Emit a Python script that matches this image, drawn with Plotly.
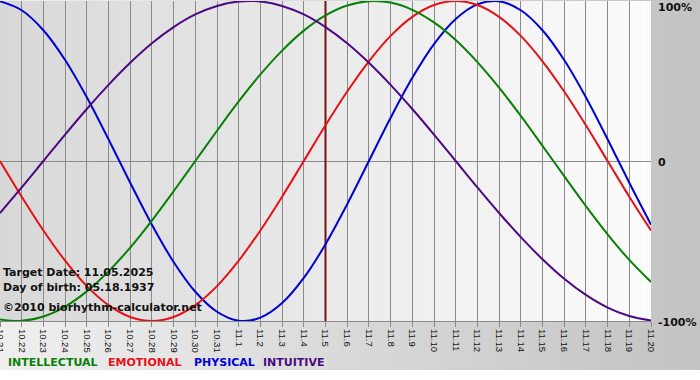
import plotly.graph_objects as go

# ---------------- data ----------------
days = ["10.21", "10.22", "10.23", "10.24", "10.25", "10.26", "10.27", "10.28",
        "10.29", "10.30", "10.31", "11.1", "11.2", "11.3", "11.4", "11.5",
        "11.6", "11.7", "11.8", "11.9", "11.10", "11.11", "11.12", "11.13",
        "11.14", "11.15", "11.16", "11.17", "11.18", "11.19", "11.20"]

physical = [0.998, 0.942, 0.817, 0.631, 0.398, 0.136, -0.136, -0.398, -0.631,
            -0.817, -0.942, -0.998, -0.979, -0.888, -0.731, -0.520, -0.270,
            0.000, 0.270, 0.520, 0.731, 0.888, 0.979, 0.998, 0.942, 0.817,
            0.631, 0.398, 0.136, -0.136, -0.398]

emotional = [0.000, -0.223, -0.434, -0.623, -0.782, -0.901, -0.975, -1.000,
             -0.975, -0.901, -0.782, -0.623, -0.434, -0.223, 0.000, 0.223,
             0.434, 0.623, 0.782, 0.901, 0.975, 1.000, 0.975, 0.901, 0.782,
             0.623, 0.434, 0.223, 0.000, -0.223, -0.434]

intellectual = [-0.990, -0.999, -0.972, -0.910, -0.815, -0.690, -0.541, -0.372,
                -0.189, 0.000, 0.189, 0.372, 0.541, 0.690, 0.815, 0.910, 0.972,
                0.999, 0.990, 0.945, 0.866, 0.756, 0.618, 0.458, 0.282, 0.095,
                -0.095, -0.282, -0.458, -0.618, -0.756]

intuitive = [-0.325, -0.165, 0.000, 0.165, 0.325, 0.476, 0.614, 0.736, 0.837,
             0.916, 0.969, 0.997, 0.997, 0.969, 0.916, 0.837, 0.736, 0.614,
             0.476, 0.325, 0.165, 0.000, -0.165, -0.325, -0.476, -0.614,
             -0.736, -0.837, -0.916, -0.969, -0.997]

series_names = ["PHYSICAL", "EMOTIONAL", "INTELLECTUAL", "INTUITIVE"]
legend_order = ["INTELLECTUAL", "EMOTIONAL", "PHYSICAL", "INTUITIVE"]

target_day = "11.5"
target_date = "11.05.2025"
birth_date = "05.18.1937"
copyright_text = "©2010 biorhythm-calculator.net"

y_tick_values = [1, 0, -1]
y_tick_labels = ["100%", "0", "-100%"]

# ---------------- styling ----------------
colors = {"PHYSICAL": "#0000d8", "EMOTIONAL": "#e81018",
          "INTELLECTUAL": "#088008", "INTUITIVE": "#4b0a82"}
series_values = {"PHYSICAL": physical, "EMOTIONAL": emotional,
                 "INTELLECTUAL": intellectual, "INTUITIVE": intuitive}

W, H = 700, 380
ML, MR, MT, MB = 0, 49, 1, 59
PW = W - ML - MR
PH = H - MT - MB


def px_x(px):
    return (px - ML) / PW


def px_y(py):
    return (H - MB - py) / PH


def gray(v):
    v = int(round(v))
    return "rgb(%d,%d,%d)" % (v, v, v)


fig = go.Figure()

# target date line
fig.add_trace(go.Scatter(x=[target_day, target_day], y=[-1, 1], mode="lines",
                         line=dict(color="#7a1010", width=2),
                         hoverinfo="skip", showlegend=False))

for name in series_names:
    fig.add_trace(go.Scatter(x=days, y=series_values[name], mode="lines",
                             line=dict(color=colors[name], width=2,
                                       shape="spline", smoothing=1.0),
                             name=name, hoverinfo="skip", showlegend=False))

shapes = []
# paper background gradient band (behind everything)
n_paper = 70
for i in range(n_paper):
    x0 = W * i / n_paper
    x1 = W * (i + 1) / n_paper + 0.5
    t = (i + 0.5) / n_paper
    c = 0xef + (0xc3 - 0xef) * t
    shapes.append(dict(type="rect", xref="paper", yref="paper",
                       x0=px_x(x0), x1=px_x(x1), y0=px_y(370), y1=px_y(-2),
                       fillcolor=gray(c), line=dict(width=0), layer="below"))

# plot area gradient
n_plot = 60
span = len(days) - 1
for i in range(n_plot):
    x0 = span * i / n_plot
    x1 = span * (i + 1) / n_plot + 0.02
    t = (i + 0.5) / n_plot
    c = 0xd8 + (0xfc - 0xd8) * t
    shapes.append(dict(type="rect", xref="x", yref="paper",
                       x0=x0, x1=x1, y0=0, y1=1,
                       fillcolor=gray(c), line=dict(width=0), layer="below"))

annotations = []
info_font = dict(family="DejaVu Sans", size=11, color="#111111", weight="bold")
for text, py in [("Target Date: " + target_date, 272),
                 ("Day of birth: " + birth_date, 287),
                 (copyright_text, 307)]:
    annotations.append(dict(text=text, xref="paper", yref="paper",
                            x=px_x(1), y=px_y(py), xanchor="left",
                            yanchor="middle", showarrow=False, font=info_font))

for name, px in zip(legend_order, [7, 107, 193, 262]):
    annotations.append(dict(text=name, xref="paper", yref="paper",
                            x=px_x(px - 1), y=px_y(362), xanchor="left",
                            yanchor="middle", showarrow=False,
                            font=dict(family="DejaVu Sans", size=11,
                                      color=colors[name], weight="bold")))

for lab, py in zip(y_tick_labels, [7, 162, 322]):
    annotations.append(dict(text=lab, xref="paper", yref="paper",
                            x=px_x(656), y=px_y(py), xanchor="left",
                            yanchor="middle", showarrow=False, font=info_font))

fig.update_layout(
    width=W, height=H,
    margin=dict(l=ML, r=MR, t=MT, b=MB, pad=0, autoexpand=False),
    paper_bgcolor="white",
    plot_bgcolor="rgba(0,0,0,0)",
    showlegend=False,
    hovermode=False,
    shapes=shapes,
    annotations=annotations,
    xaxis=dict(type="category", categoryorder="array", categoryarray=days,
               range=[0, span], showgrid=True, gridcolor="#8a8a8a",
               gridwidth=1, ticks="outside", ticklen=5, tickcolor="#8a8a8a",
               tickangle=90, showline=True, linecolor="#8a8a8a",
               tickfont=dict(family="Liberation Sans", size=9.5,
                             color="#111111"),
               fixedrange=True, zeroline=False, automargin=False),
    yaxis=dict(range=[-1, 1], tickvals=y_tick_values, showticklabels=False,
               showgrid=True, gridcolor="#8a8a8a", gridwidth=1,
               zeroline=False, ticks="", fixedrange=True, automargin=False),
)

fig.write_html("out.html", config={"displayModeBar": False},
               post_script="document.body.style.margin='0';"
                           "document.body.style.overflow='hidden';")
